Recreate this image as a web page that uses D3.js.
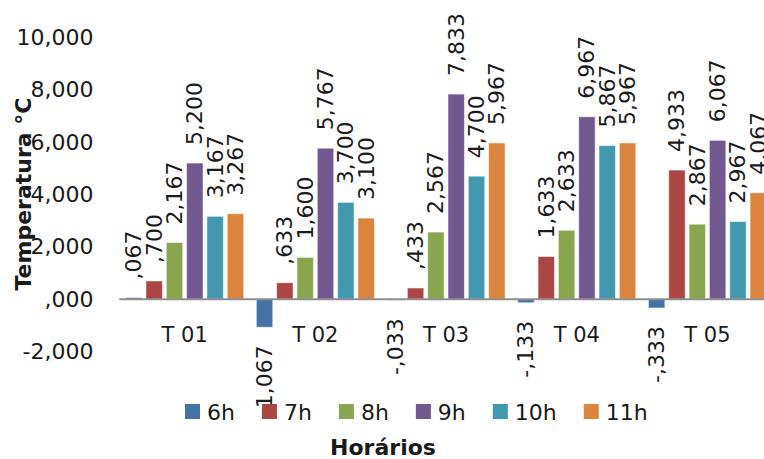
<!DOCTYPE html>
<html>
<head>
<meta charset="utf-8">
<script src="https://cdn.jsdelivr.net/npm/d3@7"></script>
<style>
  html, body { margin: 0; padding: 0; background: #fff; }
  svg { display: block; font-family: "DejaVu Sans", sans-serif; }
</style>
</head>
<body>
<svg id="chart" width="764" height="459"></svg>
<script>
// Treatments along the x axis
const categories = ["T 01", "T 02", "T 03", "T 04", "T 05"];
// Reading times (one bar per time in each group)
const series = ["6h", "7h", "8h", "9h", "10h", "11h"];
// Temperature per time, one value for each treatment
const v6h  = [0.067, -1.067, -0.033, -0.133, -0.333];
const v7h  = [0.700, 0.633, 0.433, 1.633, 4.933];
const v8h  = [2.167, 1.600, 2.567, 2.633, 2.867];
const v9h  = [5.200, 5.767, 7.833, 6.967, 6.067];
const v10h = [3.167, 3.700, 4.700, 5.867, 2.967];
const v11h = [3.267, 3.100, 5.967, 5.967, 4.067];
const yTicks = [-2, 0, 2, 4, 6, 8, 10];
const colors = ["#4672a8", "#aa4643", "#89a54e", "#71588f", "#4198af", "#db843d"];

const values = [v6h, v7h, v8h, v9h, v10h, v11h];

// "1,067" style with the leading zero dropped: ",067", "-,033"
function fmt(v) {
  const s = Math.abs(v).toFixed(3).replace(".", ",");
  const body = s.startsWith("0,") ? s.slice(1) : s;
  return (v < 0 ? "-" : "") + body;
}

const svg = d3.select("#chart");
const textColor = "#1a1a1a";

const x0 = d3.scaleBand().domain(categories).range([119.3, 772.8]).paddingInner(0).paddingOuter(0);
const x1 = d3.scaleBand().domain(series).range([6.3, x0.bandwidth() - 6.3]).paddingInner(0.19).paddingOuter(0);
const y = d3.scaleLinear().domain([-2, 10]).range([351.7, 37.3]);

// y tick labels (no axis line, no grid)
const yAxis = d3.axisLeft(y).tickValues(yTicks).tickFormat(fmt).tickSize(0).tickPadding(0);
const gy = svg.append("g").attr("transform", "translate(93.5,0)").call(yAxis);
gy.select(".domain").remove();
gy.selectAll("text")
  .attr("fill", textColor)
  .style("font-size", "22px")
  .style("font-family", "DejaVu Sans, sans-serif");

// bars
const groups = svg.append("g").selectAll("g")
  .data(categories)
  .join("g")
  .attr("transform", d => `translate(${x0(d)},0)`);

const barData = (c, ci) => series.map((s, si) => ({ s, si, v: values[si][ci] }));

groups.selectAll("rect")
  .data((c, ci) => barData(c, ci))
  .join("rect")
  .attr("x", d => x1(d.s))
  .attr("width", x1.bandwidth())
  .attr("y", d => Math.min(y(d.v), y(0)))
  .attr("height", d => Math.abs(y(d.v) - y(0)))
  .attr("fill", d => colors[d.si])
  .attr("stroke", "rgba(255,255,255,0.55)")
  .attr("stroke-width", 1);

// zero line
svg.append("line")
  .attr("x1", x0.range()[0]).attr("x2", x0.range()[1])
  .attr("y1", y(0)).attr("y2", y(0))
  .attr("stroke", "#8e8e8e")
  .attr("stroke-width", 2);

// category labels
const gx = svg.append("g").attr("transform", `translate(0,${y(0)})`)
  .call(d3.axisBottom(x0).tickSize(0).tickPadding(0));
gx.select(".domain").remove();
gx.selectAll("text")
  .attr("fill", textColor)
  .attr("y", 35)
  .attr("dy", "0.35em")
  .style("font-size", "21px")
  .style("font-family", "DejaVu Sans, sans-serif");

// value labels, rotated, outside the end of each bar
groups.selectAll("text.val")
  .data((c, ci) => barData(c, ci))
  .join("text")
  .attr("class", "val")
  .attr("transform", d => {
    const cx = x1(d.s) + x1.bandwidth() / 2;
    const py = d.v >= 0 ? y(d.v) - 18 : y(d.v) + 18;
    return `translate(${cx},${py}) rotate(-90)`;
  })
  .attr("text-anchor", d => d.v >= 0 ? "start" : "end")
  .attr("dominant-baseline", "central")
  .attr("fill", textColor)
  .style("font-size", "22px")
  .text(d => fmt(d.v));

// y axis title
svg.append("text")
  .attr("transform", "translate(23,194) rotate(-90)")
  .attr("text-anchor", "middle")
  .attr("dominant-baseline", "central")
  .attr("fill", textColor)
  .style("font-size", "22px")
  .style("font-weight", "bold")
  .text("Temperatura °C");

// legend
const legend = svg.append("g").attr("transform", "translate(185,404)");
let lx = 0;
series.forEach((s, i) => {
  const item = legend.append("g").attr("transform", `translate(${lx},0)`);
  item.append("rect").attr("width", 15).attr("height", 15).attr("fill", colors[i]);
  const t = item.append("text")
    .attr("x", 22).attr("y", 16)
    .attr("fill", textColor)
    .style("font-size", "22px")
    .text(s);
  lx += 22 + t.node().getComputedTextLength() + 27;
});

// x axis title
svg.append("text")
  .attr("x", 383).attr("y", 455)
  .attr("text-anchor", "middle")
  .attr("fill", textColor)
  .style("font-size", "22px")
  .style("font-weight", "bold")
  .text("Horários");
</script>
</body>
</html>
